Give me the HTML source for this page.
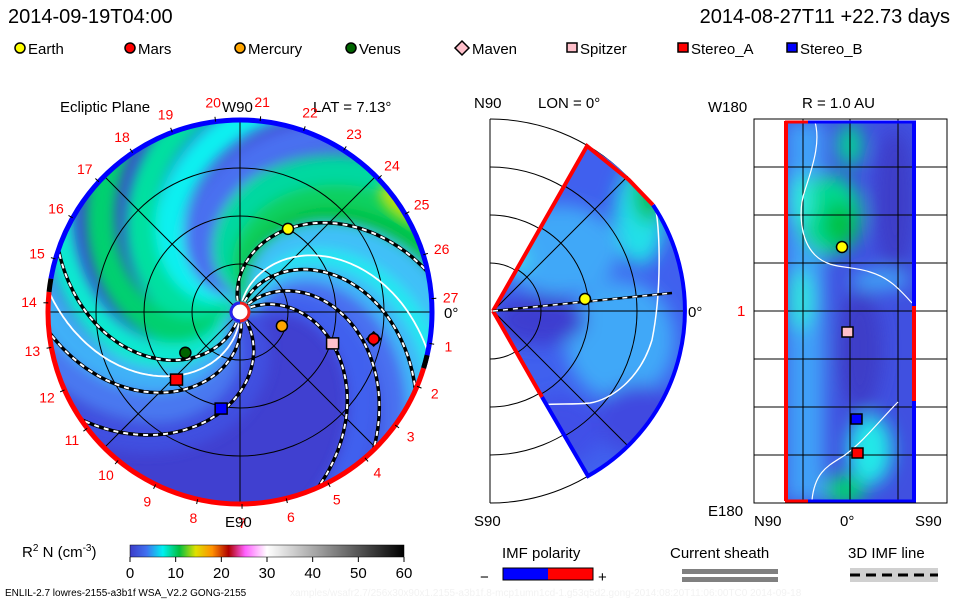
<!DOCTYPE html>
<html><head><meta charset="utf-8"><style>
html,body{margin:0;padding:0;background:#fff;}
svg{display:block;font-family:"Liberation Sans",sans-serif;}
</style></head><body>
<svg id="fig" width="960" height="600" viewBox="0 0 960 600" xmlns="http://www.w3.org/2000/svg">
<defs>
<clipPath id="cpL"><circle cx="240" cy="312" r="192"/></clipPath>
<clipPath id="cpM"><path d="M493,311 L588,146 A190,190 0 0 1 588,476 Z"/></clipPath>
<clipPath id="cpR"><rect x="785" y="121" width="130" height="380"/></clipPath>
<filter id="bl" x="-20%" y="-20%" width="140%" height="140%"><feGaussianBlur stdDeviation="6"/></filter>
<filter id="bl2" x="-50%" y="-50%" width="200%" height="200%"><feGaussianBlur stdDeviation="9"/></filter>
<linearGradient id="cbar" x1="0" x2="1" y1="0" y2="0">
<stop offset="0" stop-color="#3c3cc8"/><stop offset="0.06" stop-color="#4070f0"/>
<stop offset="0.12" stop-color="#00f0f0"/><stop offset="0.18" stop-color="#00c040"/>
<stop offset="0.24" stop-color="#e0e000"/><stop offset="0.30" stop-color="#ff9000"/>
<stop offset="0.36" stop-color="#b00000"/><stop offset="0.42" stop-color="#ff60ff"/>
<stop offset="0.50" stop-color="#ffffff"/><stop offset="1" stop-color="#000000"/>
</linearGradient>
</defs>

<!-- header -->
<text x="8" y="23" font-size="20" fill="#000">2014-09-19T04:00</text>
<text x="950" y="23" font-size="20" fill="#000" text-anchor="end">2014-08-27T11 +22.73 days</text>
<g id="legend"></g>

<!-- left panel -->
<g>
<text x="60" y="112" font-size="15">Ecliptic Plane</text>
<text x="313" y="112" font-size="15">LAT = 7.13°</text>
<g clip-path="url(#cpL)">
<circle cx="240" cy="312" r="192" fill="#4040d0"/>
<g id="bands" filter="url(#bl)"></g>
<ellipse cx="405" cy="205" rx="30" ry="14" transform="rotate(35 405 205)" fill="#b8e010" filter="url(#bl)"/>
<g id="gridL" stroke="#000" stroke-width="1" fill="none"></g>
<g id="spirals"></g>
</g>
<g id="rimL"></g>
<g id="numsL"></g>
<text x="222" y="112" font-size="15">W90</text>
<text x="444" y="318" font-size="15">0°</text>
<text x="225" y="527" font-size="15">E90</text>
<circle cx="240" cy="312" r="9" fill="#fff" stroke="#e22" stroke-width="3"/>
<path d="M240,303 A9,9 0 0 0 240,321" fill="none" stroke="#22e" stroke-width="3"/>
<g id="planetsL"></g>
</g>

<!-- middle panel -->
<g>
<text x="474" y="108" font-size="15">N90</text>
<text x="538" y="108" font-size="15">LON = 0°</text>
<text x="474" y="526" font-size="15">S90</text>
<text x="688" y="317" font-size="15">0°</text>
<g fill="none" stroke="#000" stroke-width="1">
<line x1="490" y1="119" x2="490" y2="503"/>
<path d="M490,263 A48,48 0 0 1 490,359"/>
<path d="M490,215 A96,96 0 0 1 490,407"/>
<path d="M490,167 A144,144 0 0 1 490,455"/>
<path d="M490,119 A192,192 0 0 1 490,503"/>
</g>
<g clip-path="url(#cpM)">
<rect x="480" y="130" width="220" height="360" fill="#4060ee"/>
<g filter="url(#bl2)">
<ellipse cx="560" cy="250" rx="60" ry="45" fill="#40a8f8"/>
<ellipse cx="620" cy="340" rx="55" ry="60" fill="#40a8f8"/>
<ellipse cx="640" cy="215" rx="25" ry="50" fill="#20e0e8"/>
<ellipse cx="648" cy="195" rx="14" ry="28" fill="#10c050"/>
<ellipse cx="540" cy="320" rx="45" ry="25" fill="#3c3cd0"/>
<ellipse cx="640" cy="420" rx="45" ry="35" fill="#4048e0"/>
<ellipse cx="560" cy="430" rx="40" ry="35" fill="#4050e8"/>
<ellipse cx="510" cy="260" rx="20" ry="14" fill="#40d8f0"/>
</g>
<g fill="none" stroke="#000" stroke-width="1">
<circle cx="493" cy="311" r="48"/><circle cx="493" cy="311" r="96"/><circle cx="493" cy="311" r="144"/>
<line x1="493" y1="311" x2="700" y2="311"/>
<line x1="493" y1="311" x2="640" y2="164"/>
<line x1="493" y1="311" x2="640" y2="458"/>
</g>
<path d="M655,205 C660,230 662,290 652,340 C640,380 610,400 590,403 C570,405 560,403 540,405 C520,406 505,404 490,405" fill="none" stroke="#fff" stroke-width="1.5"/>
</g>
<path d="M493,311 L587,146 L629,180 L653,205" fill="none" stroke="#f00" stroke-width="4"/>
<path d="M653,205 A190,190 0 0 1 588,476 L542,397" fill="none" stroke="#00f" stroke-width="4"/>
<path d="M542,397 L493,311" fill="none" stroke="#f00" stroke-width="4"/>
<path d="M493,311 L672,293" stroke="#000" stroke-width="2.5" fill="none"/>
<path d="M493,311 L672,293" stroke="#fff" stroke-width="1.5" stroke-dasharray="5 5" fill="none"/>
<circle cx="585" cy="299" r="5.5" fill="#ffff00" stroke="#000" stroke-width="1.5"/>
</g>

<!-- right panel -->
<g>
<text x="802" y="108" font-size="15">R = 1.0 AU</text>
<text x="708" y="112" font-size="15">W180</text>
<text x="708" y="516" font-size="15">E180</text>
<text x="754" y="526" font-size="15">N90</text>
<text x="840" y="526" font-size="15">0°</text>
<text x="915" y="526" font-size="15">S90</text>
<text x="737" y="316" font-size="15" fill="#f00">1</text>
<rect x="754" y="119" width="193" height="384" fill="none" stroke="#000"/>
<g clip-path="url(#cpR)">
<rect x="785" y="121" width="130" height="380" fill="#4050e0"/>
<g filter="url(#bl2)">
<rect x="785" y="121" width="40" height="380" fill="#40a0f8"/>
<ellipse cx="830" cy="215" rx="32" ry="40" fill="#00d890"/>
<ellipse cx="840" cy="225" rx="16" ry="22" fill="#00c040"/>
<ellipse cx="800" cy="200" rx="12" ry="25" fill="#30e8e0"/>
<ellipse cx="850" cy="145" rx="12" ry="22" fill="#00d890"/>
<ellipse cx="860" cy="350" rx="22" ry="60" fill="#3c3cc8"/>
<ellipse cx="895" cy="200" rx="20" ry="70" fill="#3c3cc8"/>
<ellipse cx="870" cy="450" rx="22" ry="35" fill="#20e8e8"/>
<ellipse cx="845" cy="490" rx="20" ry="15" fill="#00d070"/>
<ellipse cx="880" cy="280" rx="30" ry="10" fill="#40a8f8"/>
<ellipse cx="800" cy="300" rx="14" ry="30" fill="#30e0e0"/>
</g>
</g>
<g stroke="#000" stroke-width="1">
<line x1="754" y1="167" x2="947" y2="167"/><line x1="754" y1="215" x2="947" y2="215"/>
<line x1="754" y1="263" x2="947" y2="263"/><line x1="754" y1="311" x2="947" y2="311"/>
<line x1="754" y1="359" x2="947" y2="359"/><line x1="754" y1="407" x2="947" y2="407"/>
<line x1="754" y1="455" x2="947" y2="455"/>
<line x1="803" y1="119" x2="803" y2="503"/><line x1="850" y1="119" x2="850" y2="503"/><line x1="898" y1="119" x2="898" y2="503"/>
</g>
<path d="M815,122 C820,140 815,160 805,190 C798,210 800,240 815,255 C830,270 850,265 870,272 C890,278 900,290 912,303" fill="none" stroke="#fff" stroke-width="1.2"/>
<path d="M812,500 C815,470 830,465 845,455 C865,440 880,420 898,402" fill="none" stroke="#fff" stroke-width="1.2"/>
<line x1="786" y1="121" x2="786" y2="501" stroke="#f00" stroke-width="4"/>
<line x1="914" y1="121" x2="914" y2="306" stroke="#00f" stroke-width="4"/>
<line x1="914" y1="306" x2="914" y2="401" stroke="#f00" stroke-width="4"/>
<line x1="914" y1="401" x2="914" y2="501" stroke="#00f" stroke-width="4"/>
<line x1="785" y1="122" x2="808" y2="122" stroke="#f00" stroke-width="3"/>
<line x1="808" y1="122" x2="916" y2="122" stroke="#00f" stroke-width="3"/>
<line x1="785" y1="501" x2="808" y2="501" stroke="#f00" stroke-width="3"/>
<line x1="808" y1="501" x2="916" y2="501" stroke="#00f" stroke-width="3"/>
<circle cx="842" cy="247" r="5.5" fill="#ffff00" stroke="#000" stroke-width="1.5"/>
<rect x="842" y="327" width="11" height="10" fill="#ffc0cb" stroke="#000" stroke-width="1.5"/>
<rect x="851" y="414" width="11" height="10" fill="#0000ff" stroke="#000" stroke-width="1.5"/>
<rect x="852" y="448" width="11" height="10" fill="#ff0000" stroke="#000" stroke-width="1.5"/>
</g>

<!-- colour bar -->
<g>
<text x="22" y="557" font-size="15">R<tspan font-size="10" dy="-6">2</tspan><tspan dy="6"> N (cm</tspan><tspan font-size="10" dy="-6">-3</tspan><tspan dy="6">)</tspan></text>
<rect x="130" y="545" width="274" height="12" fill="url(#cbar)" stroke="#000" stroke-width="0.5"/>
<g id="cbticks"></g>
</g>
<g>
<text x="502" y="558" font-size="15">IMF polarity</text>
<text x="480" y="582" font-size="15">−</text>
<rect x="503" y="568" width="45" height="12" fill="#00f"/><rect x="548" y="568" width="45" height="12" fill="#f00"/>
<rect x="503" y="568" width="90" height="12" fill="none" stroke="#000"/>
<text x="598" y="582" font-size="15">+</text>
</g>
<g>
<text x="670" y="558" font-size="15">Current sheath</text>
<rect x="682" y="569" width="96" height="5" fill="#808080"/><rect x="682" y="577" width="96" height="5" fill="#808080"/>
</g>
<g>
<text x="848" y="558" font-size="15">3D IMF line</text>
<rect x="850" y="568" width="88" height="14" fill="#d0d0d0"/>
<line x1="850" y1="575" x2="938" y2="575" stroke="#000" stroke-width="3" stroke-dasharray="10 6"/>
</g>
<text x="5" y="596" font-size="10">ENLIL-2.7 lowres-2155-a3b1f WSA_V2.2 GONG-2155</text>
<text x="290" y="596" font-size="10" fill="#f2f2f2">xamples/wsafr2.7/256x30x90x1.2155-a3b1f.8-mcp1umn1cd-1.g53q5d2.gong-2014:08:20T11:06:00TC0    2014-09-18</text>
</svg>
<script>
const NS='http://www.w3.org/2000/svg';
const CX=240, CY=312, PXAU=96, WIND=48;
// planet data: polar (angle deg, radius AU)
const bodyNames=['Earth','Mars','Mercury','Venus','Maven','Spitzer','Stereo_A','Stereo_B'];
const bodyAngles=[60,-11.4,-18.4,216.7,-11.4,-19,227,259];
const bodyRadii=[1.0,1.42,0.46,0.71,1.42,1.02,0.97,1.03];
const bodyColors=['#ffff00','#ff0000','#ffa500','#006400','#ffc0cb','#ffc0cb','#ff0000','#0000ff'];
const bodyShapes=['circle','circle','circle','circle','diamond','square','square','square'];
// spiral field lines (footpoint angle deg)
const dashedSpirals=[108,72,50,30,-50,-78,-103];
const solidSpirals=[84,-90];
// density band spirals: footpoint angle, color
const bandAngles=[40,60,75,88,100,118,128,142,162,185,205,230,255,275,292,312];
const bandColors=['#4060ee','#4a70f0','#40b8f8','#20e8f0','#40c0f8','#00c040','#10d060','#00d8a0','#4a70f0','#10f0f0','#00e0a0','#00d070','#10e8d0','#40b0f8','#4a78f0','#4050e0'];
const colorbarTicks=[0,10,20,30,40,50,60];
const sectorLabels=[1,2,3,4,5,6,7,8,9,10,11,12,13,14,15,16,17,18,19,20,21,22,23,24,25,26,27];

function px(r,a){const t=a*Math.PI/180;return [CX+PXAU*r*Math.cos(t),CY-PXAU*r*Math.sin(t)];}
function spiralD(a0,r0,r1){let d='';for(let r=r0;r<=r1;r+=0.02){const p=px(r,a0-WIND*r);d+=(d?'L':'M')+p[0].toFixed(1)+','+p[1].toFixed(1);}return d;}
function mk(tag,attrs,parent){const e=document.createElementNS(NS,tag);for(const k in attrs)e.setAttribute(k,attrs[k]);parent.appendChild(e);return e;}

const bands=document.getElementById('bands');
bandAngles.forEach((a,i)=>{
  const e=mk('path',{d:spiralD(a,0.05,2.6),fill:'none',stroke:bandColors[i],'stroke-width':30},bands);
  
  
});

const g=document.getElementById('gridL');
[0.5,1,1.5].forEach(r=>{mk('circle',{cx:CX,cy:CY,r:r*PXAU},g);});
[0,45,90,135].forEach(a=>{const p=px(2.1,a),q=px(2.1,a+180);mk('line',{x1:p[0],y1:p[1],x2:q[0],y2:q[1]},g);});

const sp=document.getElementById('spirals');
solidSpirals.forEach(a=>{
  const e=mk('path',{d:spiralD(a,0.12,2.2),fill:'none',stroke:'#fff','stroke-width':1.8},sp);
  
  
});
dashedSpirals.forEach(a=>{
  const d=spiralD(a,0.12,2.2);
  mk('path',{d:d,fill:'none',stroke:'#000','stroke-width':3.5},sp);
  const e=mk('path',{d:d,fill:'none',stroke:'#fff','stroke-width':2,'stroke-dasharray':'5 5'},sp);
  
  
});

const rim=document.getElementById('rimL');
function arc(a1,a2,col){const p=px(2,a1),q=px(2,a2);const large=Math.abs(a2-a1)>180?1:0;
  const e=mk('path',{d:`M${p[0]},${p[1]} A192,192 0 ${large} 0 ${q[0]},${q[1]}`,fill:'none',stroke:col,'stroke-width':5},rim);return e;}
let e1=arc(-17,170,'#0000ff');


let e2=arc(174,343,'#ff0000');


arc(170,174,'#000');arc(-17,-13,'#000');

const nums=document.getElementById('numsL');
sectorLabels.forEach(k=>{
  const a=4+(27-k)*13.33;
  const p=px(2.2,a);
  const t=mk('text',{x:p[0],y:p[1]+5,'font-size':14,fill:'#f00','text-anchor':'middle'},nums);
  t.textContent=k;
  
  
  const a1=px(2.0,a),a2=px(2.05,a);
  mk('line',{x1:a1[0],y1:a1[1],x2:a2[0],y2:a2[1],stroke:'#000'},nums);
});

function marker(shape,x,y,col,parent,s){
  if(shape==='circle')return mk('circle',{cx:x,cy:y,r:s,fill:col,stroke:'#000','stroke-width':1.5},parent);
  if(shape==='square')return mk('rect',{x:x-s,y:y-s,width:2*s,height:2*s-1,fill:col,stroke:'#000','stroke-width':1.5},parent);
  return mk('path',{d:`M${x},${y-s-2}L${x+s+2},${y}L${x},${y+s+2}L${x-s-2},${y}Z`,fill:col,stroke:'#000','stroke-width':1.5},parent);
}
const pl=document.getElementById('planetsL');
[4,0,1,2,3,5,6,7].forEach(i=>{
  const p=px(bodyRadii[i],bodyAngles[i]);
  let col=bodyColors[i], shp=bodyShapes[i];
  let e;
  if(i===4){e=marker('diamond',p[0],p[1],'#000',pl,5);}
  else e=marker(shp,p[0],p[1],col,pl,shp==='circle'?5.5:6);
  
  
});

const lg=document.getElementById('legend');
const legX=[20,130,240,351,462,572,683,792];
bodyNames.forEach((n,i)=>{
  const m=marker(bodyShapes[i],legX[i],48,bodyColors[i],lg,bodyShapes[i]==='circle'?5:5);
  
  
  const t=mk('text',{x:legX[i]+(bodyShapes[i]==='diamond'?10:8),y:54,'font-size':15},lg);
  t.textContent=n;
  
  
});

const cb=document.getElementById('cbticks');
colorbarTicks.forEach(v=>{
  const x=130+(v-colorbarTicks[0])/(colorbarTicks[colorbarTicks.length-1]-colorbarTicks[0])*274;
  mk('line',{x1:x,y1:557,x2:x,y2:562,stroke:'#000'},cb);
  const t=mk('text',{x:x,y:578,'font-size':15,'text-anchor':'middle'},cb);
  t.textContent=v;
  
  
});
</script>
</body></html>
